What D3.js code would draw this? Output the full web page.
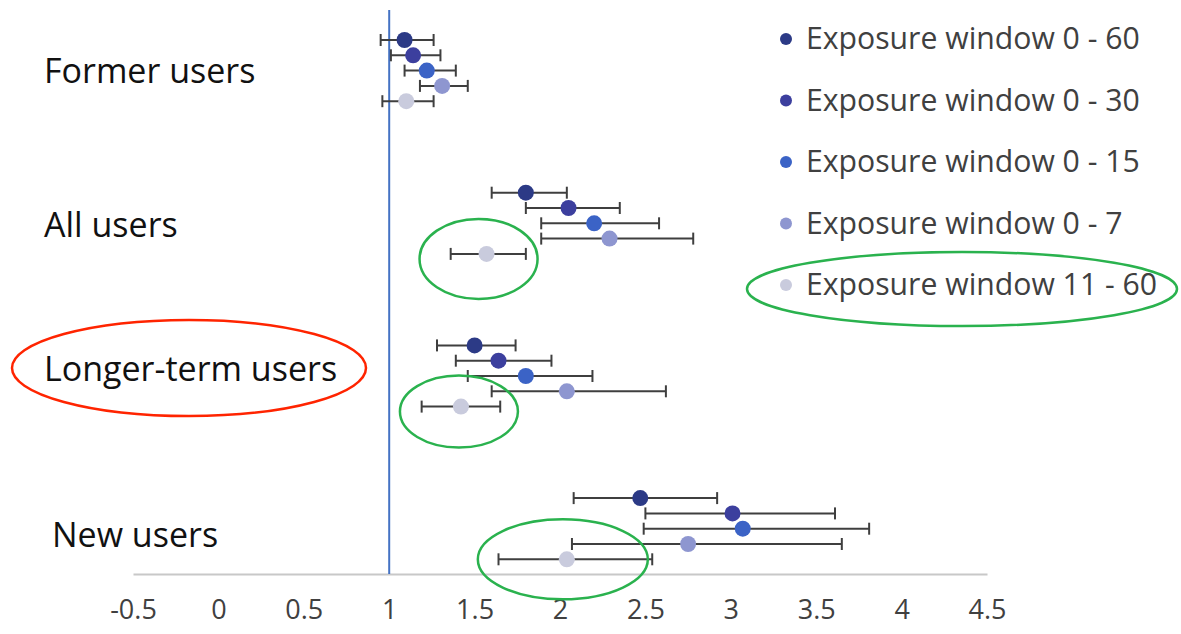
<!DOCTYPE html>
<html>
<head>
<meta charset="utf-8">
<script src="https://cdn.jsdelivr.net/npm/d3@7"></script>
<style>
  body { margin: 0; background: #fff; }
  text { font-family: "Open Sans", sans-serif; }
</style>
</head>
<body>
<svg id="chart" width="1181" height="634"></svg>
<script>
// groups top to bottom, series in the order drawn within each group
const groups = ["Former users", "All users", "Longer-term users", "New users"];
const series = ["Exposure window 0 - 60", "Exposure window 0 - 30", "Exposure window 0 - 15", "Exposure window 0 - 7", "Exposure window 11 - 60"];
const colors = ["#2c3a86", "#3c3f9e", "#3b63c6", "#8e96d0", "#c9cbdd"];

// point estimate, lower and upper bound per group (rows follow series order)
const estimates = [
  [1.09, 1.14, 1.22, 1.31, 1.10],
  [1.80, 2.05, 2.20, 2.29, 1.57],
  [1.50, 1.64, 1.80, 2.04, 1.42],
  [2.47, 3.01, 3.07, 2.75, 2.04]
];
const lower = [
  [0.95, 1.01, 1.09, 1.18, 0.96],
  [1.60, 1.80, 1.89, 1.89, 1.36],
  [1.28, 1.39, 1.46, 1.60, 1.19],
  [2.08, 2.50, 2.49, 2.07, 1.64]
];
const upper = [
  [1.26, 1.30, 1.39, 1.46, 1.26],
  [2.04, 2.35, 2.58, 2.78, 1.80],
  [1.74, 1.95, 2.19, 2.62, 1.65],
  [2.92, 3.61, 3.81, 3.65, 2.54]
];
const xTicks = [-0.5, 0, 0.5, 1, 1.5, 2, 2.5, 3, 3.5, 4, 4.5];
const refValue = 1;

const svg = d3.select("#chart");

const x = d3.scaleLinear().domain([-0.5, 4.5]).range([133, 987]);
const yGroup = d3.scaleBand().domain(groups).range([40, 40 + 152.7 * groups.length]);
const yRow = d3.scalePoint().domain(series).range([0, 61.2]);
const yPos = (g, s) => yGroup(g) + yRow(s);

const points = [];
groups.forEach((g, gi) => series.forEach((s, si) => {
  points.push({ group: g, series: s, si, est: estimates[gi][si], lo: lower[gi][si], hi: upper[gi][si] });
}));

// x axis
const axisY = 574;
const xAxis = svg.append("g")
  .attr("transform", `translate(0,${axisY})`)
  .call(d3.axisBottom(x).tickValues(xTicks).tickSize(0).tickPadding(26).tickFormat(d3.format("")));
xAxis.select(".domain").attr("stroke", "#c8c8c8").attr("stroke-width", 2);
xAxis.selectAll("text")
  .attr("font-size", 27)
  .attr("fill", "#404040")
  .attr("font-family", "'Open Sans', sans-serif");
xAxis.selectAll("text").text(d => String(d).replace("-", "-"));

// reference line
svg.append("line")
  .attr("x1", x(refValue)).attr("x2", x(refValue))
  .attr("y1", 10).attr("y2", axisY)
  .attr("stroke", "#4472c4").attr("stroke-width", 2);

// error bars
const bars = svg.append("g").attr("stroke", "#3f3f3f").attr("stroke-width", 2);
bars.selectAll(".whisker").data(points).join("line")
  .attr("x1", d => x(d.lo)).attr("x2", d => x(d.hi))
  .attr("y1", d => yPos(d.group, d.series)).attr("y2", d => yPos(d.group, d.series));
bars.selectAll(".capL").data(points).join("line").attr("class", "capL")
  .attr("x1", d => x(d.lo)).attr("x2", d => x(d.lo))
  .attr("y1", d => yPos(d.group, d.series) - 6).attr("y2", d => yPos(d.group, d.series) + 6);
bars.selectAll(".capR").data(points).join("line").attr("class", "capR")
  .attr("x1", d => x(d.hi)).attr("x2", d => x(d.hi))
  .attr("y1", d => yPos(d.group, d.series) - 6).attr("y2", d => yPos(d.group, d.series) + 6);

// points
svg.append("g").selectAll("circle").data(points).join("circle")
  .attr("cx", d => x(d.est))
  .attr("cy", d => yPos(d.group, d.series))
  .attr("r", 8)
  .attr("fill", d => colors[d.si]);

// group labels (small vertical nudges as in the original layout)
const labelNudge = [0, 2, -7, 6];
svg.append("g").selectAll("text").data(groups).join("text")
  .attr("x", (d, i) => i === 3 ? 52 : 44)
  .attr("y", (d, i) => yPos(d, series[2]) + 12 + labelNudge[i])
  .attr("font-size", 34)
  .attr("fill", "#111")
  .text(d => d);

// legend
const legend = svg.append("g").attr("transform", "translate(786,39)");
const li = legend.selectAll("g").data(series).join("g")
  .attr("transform", (d, i) => `translate(0,${i * 61.5})`);
li.append("circle").attr("r", 6).attr("fill", (d, i) => colors[i]);
li.append("text").attr("x", 20).attr("y", 10)
  .attr("font-size", 30.2).attr("fill", "#404040")
  .text(d => d);

// annotations: circle the 11 - 60 window
const last = series[series.length - 1];
const marks = [
  { group: "All users", rx: 59, ry: 40, dx: -8, dy: 5 },
  { group: "Longer-term users", rx: 59, ry: 36, dx: -2, dy: 5 },
  { group: "New users", rx: 85, ry: 40, dx: -4, dy: 0 }
];
const ann = svg.append("g").attr("fill", "none").attr("stroke-width", 2.5);
ann.selectAll("ellipse.g").data(marks).join("ellipse")
  .attr("cx", d => x(points.find(p => p.group === d.group && p.series === last).est) + d.dx)
  .attr("cy", d => yPos(d.group, last) + d.dy)
  .attr("rx", d => d.rx).attr("ry", d => d.ry)
  .attr("stroke", "#2ab24e");
ann.append("ellipse")
  .attr("cx", 962).attr("cy", 39 + 4 * 61.5 + 4)
  .attr("rx", 215).attr("ry", 37)
  .attr("stroke", "#2ab24e");
ann.append("ellipse")
  .attr("cx", 189).attr("cy", yPos("Longer-term users", series[2]) - 8)
  .attr("rx", 177).attr("ry", 48)
  .attr("stroke", "#ff2400");
</script>
</body>
</html>
